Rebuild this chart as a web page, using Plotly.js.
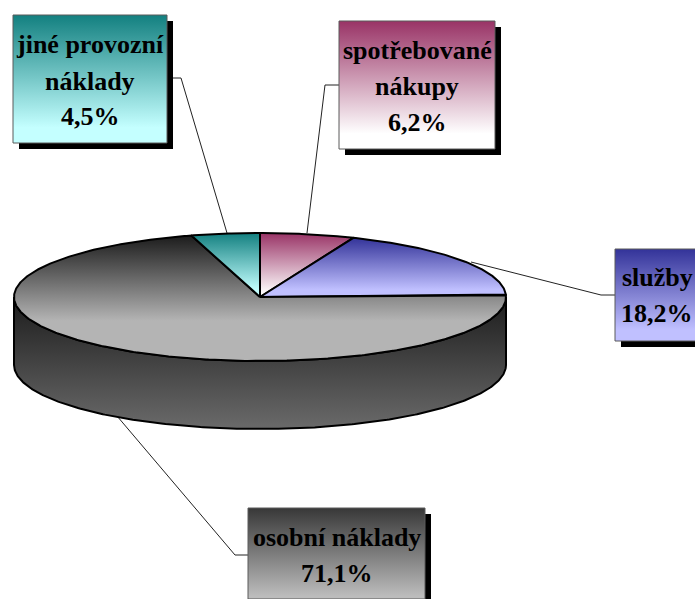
<!DOCTYPE html>
<html>
<head>
<meta charset="utf-8">
<script src="https://cdn.plot.ly/plotly-3.0.1.min.js"></script>
<style>html,body{margin:0;padding:0;background:#fff}#chart{width:695px;height:599px}</style>
</head>
<body>
<div id="chart"></div>
<script>
// Data, clockwise from 12 o'clock
const categories = ['spotřebované nákupy', 'služby', 'osobní náklady', 'jiné provozní náklady'];
const shares = [6.2, 18.2, 71.1, 4.5];
const labelLines = [['spotřebované', 'nákupy'], ['služby'], ['osobní náklady'], ['jiné provozní', 'náklady']];
const gradTop = ['#993366', '#333399', '#1c1c1c', '#138080'];
const gradBottom = ['#ffffff', '#c0c0ff', '#b4b4b4', '#c4ffff'];
const gradStop = [0.95, 0.88, 0.68, 0.9];
const boxTop = ['#993366', '#333399', '#383838', '#138080'];
const boxBottom = ['#ffffff', '#c0c0ff', '#bcbcbc', '#c4ffff'];
const boxStop = [0.88, 0.88, 0.97, 0.88];

// Geometry in picture units
const cx = 260, cy = 297, rx = 246, ry = 64, depth = 68;
const boxes = [[339, 21, 495, 149], [615, 249, 700, 341], [248, 508, 425, 599], [13, 15, 167, 143]];
const leaders = [
  [[339, 85], [325, 85], [307, 233]],
  [[615, 295], [601, 295], [471, 262]],
  [[248, 555], [235, 555], [117, 416]],
  [[173, 78], [181, 78], [227, 233]]
];
const lineY = [[50, 86, 122], [277, 313], [537, 573], [44, 81, 116]];
const fontSize = 26;

const pt = a => [cx + rx * Math.sin(a), cy - ry * Math.cos(a)];
const arc = (a0, a1) => {
  const n = Math.max(2, Math.ceil(Math.abs(a1 - a0) / 0.01)), out = [];
  for (let i = 0; i <= n; i++) out.push(pt(a0 + (a1 - a0) * i / n));
  return out;
};
const vgrad = (c0, c1, y0, y1, f) => ({type: 'vertical', start: y0, stop: y1,
  colorscale: [[0, c0], [f === undefined ? 1 : f, c1], [1, c1]]});
const poly = (pts, extra) => Object.assign({
  x: pts.map(p => p[0]), y: pts.map(p => p[1]), mode: 'lines', type: 'scatter',
  hoverinfo: 'skip', showlegend: false, line: {color: '#000', width: 2}, fill: 'toself'
}, extra);

const traces = [];
const total = shares.reduce((a, b) => a + b, 0);

// Leader lines
leaders.forEach((l, i) => traces.push({
  x: l.map(p => p[0]), y: l.map(p => p[1]), mode: 'lines', type: 'scatter', hoverinfo: 'skip',
  showlegend: false, name: categories[i], line: {color: '#222', width: 1}
}));

// Pie wall: only the front half is visible
const front = arc(Math.PI / 2, 3 * Math.PI / 2);
const wall = front.concat(front.slice().reverse().map(p => [p[0], p[1] + depth]));
wall.push(front[0]);
traces.push(poly(wall, {fillgradient: vgrad('#1c1c1c', '#6a6a6a', cy, cy + ry + depth)}));

// Pie top
let acc = 0;
shares.forEach((s, i) => {
  const a0 = acc / total * 2 * Math.PI;
  acc += s;
  const a1 = acc / total * 2 * Math.PI;
  const pts = [[cx, cy]].concat(arc(a0, a1), [[cx, cy]]);
  const ys = pts.map(p => p[1]);
  traces.push(poly(pts, {
    name: categories[i],
    fillgradient: vgrad(gradTop[i], gradBottom[i], Math.min.apply(null, ys), Math.max.apply(null, ys), gradStop[i])
  }));
});

// Label boxes with hard shadows
const annotations = [];
boxes.forEach((b, i) => {
  const [x0, y0, x1, y1] = b, d = 6;
  traces.push(poly([[x0 + d, y0 + d], [x1 + d, y0 + d], [x1 + d, y1 + d], [x0 + d, y1 + d], [x0 + d, y0 + d]],
    {fillcolor: '#000', line: {color: '#000', width: 0}}));
  traces.push(poly([[x0, y0], [x1, y0], [x1, y1], [x0, y1], [x0, y0]], {
    line: {color: '#5a5a5a', width: 1},
    fillgradient: vgrad(boxTop[i], boxBottom[i], y0, y1, boxStop[i])
  }));
  const lines = labelLines[i].concat([shares[i].toFixed(1).replace('.', ',') + '%']);
  const mid = i === 1 ? 657 : (x0 + x1) / 2;
  lines.forEach((t, j) => annotations.push({
    x: mid, y: lineY[i][j], xref: 'x', yref: 'y', text: '<b>' + t + '</b>', showarrow: false,
    xanchor: 'center', yanchor: 'middle',
    font: {family: '"Liberation Serif", serif', size: fontSize, color: '#000'}
  }));
});

const hidden = r => ({range: r, visible: false, fixedrange: true, showgrid: false, zeroline: false});
Plotly.newPlot('chart', traces, {
  width: 695, height: 599, margin: {l: 0, r: 0, t: 0, b: 0},
  paper_bgcolor: '#fff', plot_bgcolor: '#fff', showlegend: false,
  xaxis: hidden([0, 695]), yaxis: hidden([599, 0]), annotations: annotations
}, {displayModeBar: false, staticPlot: true});
</script>
</body>
</html>
